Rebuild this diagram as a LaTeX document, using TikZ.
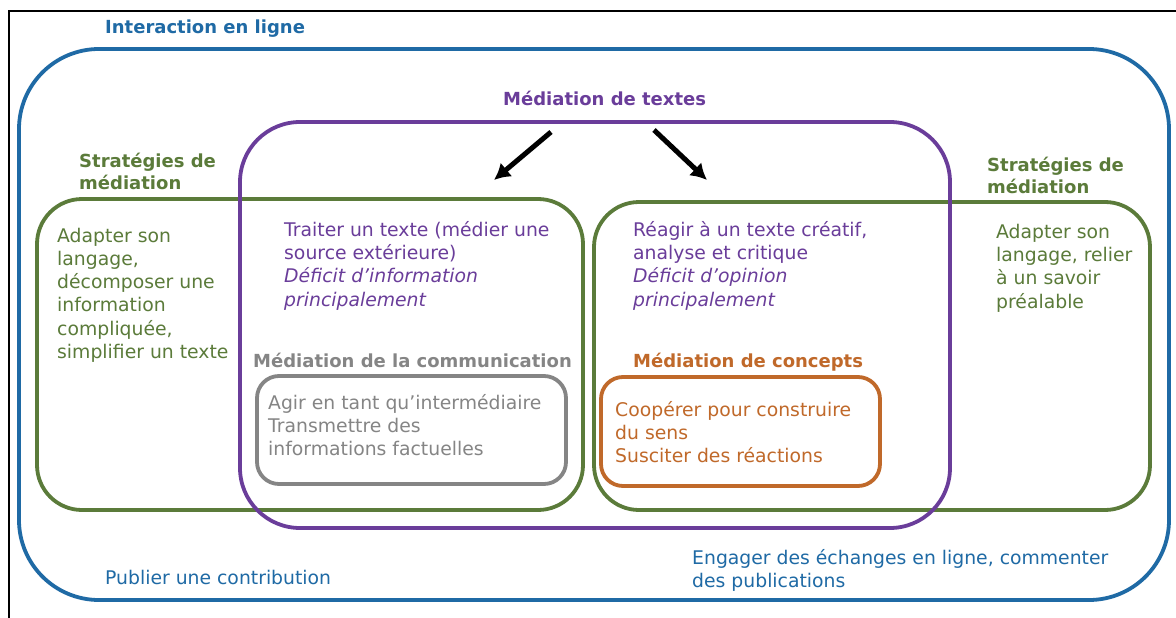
\documentclass[tikz,border=0pt]{standalone}
\usepackage{fontspec}
\setmainfont{DejaVu Sans}
\usepackage{tikz}
\usepackage{xcolor}
\usetikzlibrary{arrows, arrows.meta, calc, positioning}
\definecolor{cblue}{HTML}{1F6AA5}
\definecolor{cpurple}{HTML}{6A3D9A}
\definecolor{cgreen}{HTML}{5B7B3A}
\definecolor{cgrey}{HTML}{858585}
\definecolor{corange}{HTML}{C0692A}
\tikzset{
  % zone outline style
  zone/.style={
    line width = 3.8pt
  },
  % Graph arrow style
  garr/.style={
    line width = 5pt
  },
}

\begin{document}
\begin{tikzpicture}
          [x=1pt, y=-1pt,
           txt/.style={anchor=base west, align=left, inner sep=0pt,
                       font=\fontsize{18.8}{23.3}\selectfont},
           head/.style={txt, font=\fontsize{18}{22.5}\selectfont\bfseries}
          ]
          \fill[white] (0,0) rectangle (1176,618);
          \useasboundingbox (0,0) rectangle (1176,618);
          \draw[line width=1.5pt] (9,618) -- (9,11) -- (1176,11);

          % zones
          \draw[zone, cblue, rounded corners=80pt] (19,49) rectangle (1169,600);
          \draw[zone, cgreen, rounded corners=45pt] (37,199) rectangle (583,510);
          \draw[zone, cgreen, rounded corners=45pt] (594,202) rectangle (1150,510);
          \draw[zone, cpurple, rounded corners=60pt] (240,122) rectangle (950,528);
          \draw[zone, cgrey, rounded corners=22pt] (257,376) rectangle (566,484);
          \draw[zone, corange, rounded corners=22pt] (601,377) rectangle (880,486);

          % titles (multi-line nodes sit on their last baseline)
          \node (online) [head, text=cblue] at (105,34) {Interaction en ligne};
          \node (texts) [head, text=cpurple] at (503,106) {Médiation de textes};
          \node (stratL) [head, text=cgreen] at (79,189.5) {Stratégies de\\médiation};
          \node (stratR) [head, text=cgreen] at (987,193.5) {Stratégies de\\médiation};
          \node (comm) [head, text=cgrey] at (253,367) {Médiation de la communication};
          \node (concepts) [head, text=corange] at (633,367) {Médiation de concepts};

          % texts
          \node (adaptL) [txt, text=cgreen] at (57,358.5)
                {Adapter son\\langage,\\décomposer une\\information\\compliquée,\\simplifier un texte};
          \node (adaptR) [txt, text=cgreen] at (996,308)
                {Adapter son\\langage, relier\\à un savoir\\préalable};
          \node (treat) [txt, text=cpurple] at (284,306)
                {Traiter un texte (médier une\\source extérieure)\\\textit{Déficit d\symbol{39}information}\\\textit{principalement}};
          \node (react) [txt, text=cpurple] at (633,306)
                {Réagir à un texte créatif,\\analyse et critique\\\textit{Déficit d'opinion}\\\textit{principalement}};
          \node (agir) [txt, text=cgrey] at (268,455.6)
                {Agir en tant qu\symbol{39}intermédiaire\\Transmettre des\\informations factuelles};
          \node (coop) [txt, text=corange] at (615,462.6)
                {Coopérer pour construire\\du sens\\Susciter des réactions};
          \node (publier) [txt, text=cblue] at (105,584) {Publier une contribution};
          \node (engager) [txt, text=cblue] at (692,587.3)
                {Engager des échanges en ligne, commenter\\des publications};

          \coordinate (fromL) at (551,132);
          \coordinate (toL) at (494,180);
          \coordinate (fromR) at (654,130);
          \coordinate (toR) at (707,180);
          \draw[-{Latex[length=16pt,width=18pt]},garr] (fromL) -- (toL);
          \draw[-{Latex[length=16pt,width=18pt]},garr] (fromR) -- (toR);
      \end{tikzpicture}
\end{document}
